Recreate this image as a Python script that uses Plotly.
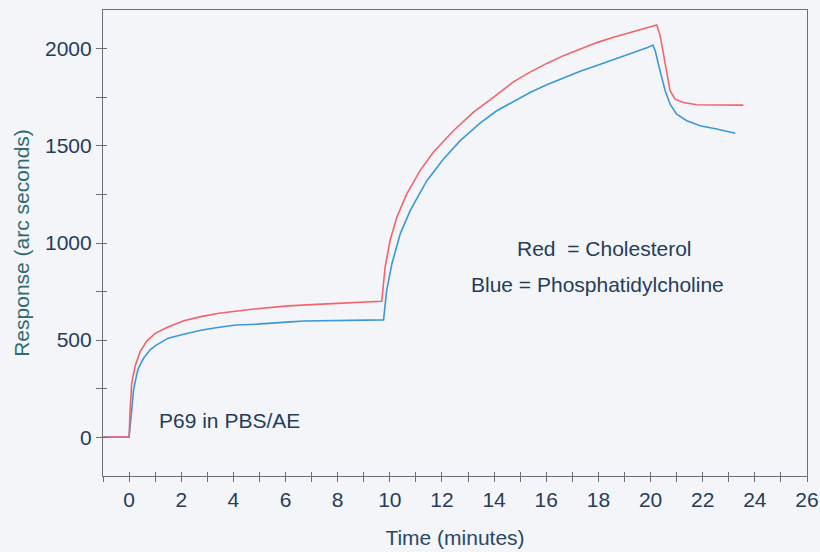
import plotly.graph_objects as go

# Binding response of P69 in PBS/AE, time in minutes, response in arc seconds
time_red = [-1.0, 0.0, 0.04, 0.1, 0.23, 0.42, 0.68, 1.0, 1.45, 2.1, 2.8, 3.45,
            4.8, 6.1, 7.4, 8.5, 9.62, 9.69, 9.82, 10.01, 10.27, 10.65, 11.16,
            11.67, 12.44, 13.2, 13.97, 14.74, 15.38, 16.02, 16.66, 17.3, 17.94,
            18.58, 19.22, 19.86, 20.24, 20.37, 20.5, 20.62, 20.75, 20.94, 21.26,
            21.77, 22.5, 23.56]
resp_red = [0, 0, 139, 277, 365, 439, 495, 535, 565, 600, 622, 638,
            660, 676, 685, 691, 697, 700, 876, 1013, 1133, 1253, 1373,
            1467, 1578, 1673, 1750, 1830, 1880, 1925, 1965, 2000, 2032,
            2060, 2085, 2108, 2123, 2067, 1973, 1870, 1784, 1741, 1724,
            1712, 1711, 1710]

time_blue = [-1.0, 0.0, 0.1, 0.17, 0.3, 0.36, 0.55, 0.81, 1.0, 1.5, 2.1, 2.8,
             3.4, 4.1, 4.9, 5.4, 6.2, 6.7, 7.46, 8.5, 9.7, 9.76, 9.88, 10.08,
             10.4, 10.78, 11.42, 12.06, 12.7, 13.46, 14.1, 14.74, 15.38, 16.02,
             16.66, 17.3, 17.94, 18.58, 19.22, 19.86, 20.09, 20.18, 20.3, 20.43,
             20.56, 20.75, 21.0, 21.39, 21.9, 22.54, 23.25]
resp_blue = [0, 0, 139, 242, 327, 355, 405, 450, 470, 510, 530, 552,
             565, 578, 582, 588, 594, 598, 599, 600, 601, 604, 756, 893,
             1047, 1167, 1321, 1433, 1527, 1617, 1681, 1730, 1775, 1815,
             1850, 1884, 1914, 1944, 1972, 2005, 2019, 1990, 1921, 1852,
             1784, 1715, 1664, 1630, 1604, 1587, 1565]

x_range = [-1, 26]
y_range = [-200, 2200]

RED = "#f2636d"
BLUE = "#3c98d8"
TEXT = "#263d58"
AXIS = "#6a7077"
BG = "#f3f5f8"
FONT = "Liberation Sans, Arial, sans-serif"
FS = 21

fig = go.Figure()
fig.add_trace(go.Scatter(x=time_blue, y=resp_blue, mode="lines",
                         line=dict(color=BLUE, width=1.6), showlegend=False))
fig.add_trace(go.Scatter(x=time_red, y=resp_red, mode="lines",
                         line=dict(color=RED, width=1.6), showlegend=False))

# ticks crossing the axis lines: outside ticks on the main axes,
# inside ticks on overlaid twin axes
fig.update_layout(
    width=820, height=552,
    margin=dict(l=103, r=13, t=10, b=76),
    paper_bgcolor=BG, plot_bgcolor=BG,
    font=dict(family=FONT, color=TEXT, size=FS),
    xaxis=dict(range=x_range, tickvals=list(range(0, 27, 2)),
               ticks="outside", ticklen=5, tickcolor=AXIS, tickwidth=1,
               minor=dict(tickvals=list(range(-1, 27)), ticks="outside",
                          ticklen=5, tickcolor=AXIS, showgrid=False),
               showline=True, linecolor=AXIS, linewidth=1.2, mirror=True,
               showgrid=False, zeroline=False, automargin=False,
               tickfont=dict(size=FS, color=TEXT),
               title=dict(text="Time (minutes)", standoff=20,
                          font=dict(size=FS, color="#2a4766"))),
    yaxis=dict(range=y_range, tickvals=[0, 500, 1000, 1500, 2000],
               ticks="outside", ticklen=6, tickcolor=AXIS, tickwidth=1,
               minor=dict(tickvals=list(range(-250, 2201, 250)), ticks="outside",
                          ticklen=6, tickcolor=AXIS, showgrid=False),
               showline=True, linecolor=AXIS, linewidth=1.2, mirror=True,
               showgrid=False, zeroline=False, automargin=False,
               tickfont=dict(size=FS, color=TEXT),
               title=dict(text="Response (arc seconds)", standoff=9,
                          font=dict(size=FS, color="#2f6a74"))),
    xaxis2=dict(range=x_range, overlaying="x", anchor="y",
                tickvals=list(range(-1, 27)), ticks="inside", ticklen=4,
                tickcolor=AXIS, showticklabels=False, showgrid=False,
                zeroline=False, showline=False),
    yaxis2=dict(range=y_range, overlaying="y", anchor="x",
                tickvals=list(range(-250, 2201, 250)), ticks="inside", ticklen=4,
                tickcolor=AXIS, showticklabels=False, showgrid=False,
                zeroline=False, showline=False),
)

# invisible trace so the twin axes are drawn
fig.add_trace(go.Scatter(x=[None], y=[None], xaxis="x2", yaxis="y2",
                         showlegend=False, hoverinfo="skip"))

fig.add_annotation(x=3.84, y=87, text="P69 in PBS/AE", showarrow=False,
                   font=dict(size=FS, color=TEXT))
fig.add_annotation(x=18.22, y=970, text="Red  = Cholesterol", showarrow=False,
                   font=dict(size=FS, color=TEXT))
fig.add_annotation(x=17.95, y=786, text="Blue = Phosphatidylcholine", showarrow=False,
                   font=dict(size=FS, color=TEXT))

fig.write_html("out.html")
